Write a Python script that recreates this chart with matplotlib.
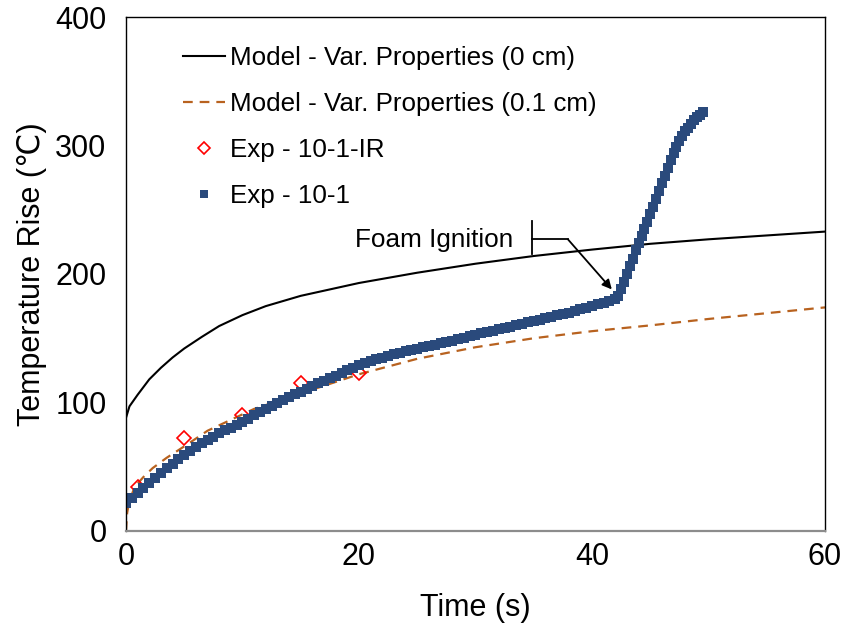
import matplotlib
matplotlib.use("Agg")
import matplotlib.pyplot as plt

plt.rcParams['font.family'] = ['Liberation Sans', 'DejaVu Sans']
plt.rcParams['lines.scale_dashes'] = False

# Model - variable properties, surface (0 cm)
model_0_t = [0, 0, 0.3, 1, 2, 3, 4, 5, 6.5, 8, 10, 12, 15, 20, 25, 30, 35, 40, 45, 50, 55, 60]
model_0_T = [0, 88, 97, 106, 118, 127, 135, 142, 151, 159.5, 168, 175, 183, 193, 201, 208, 214,
             219, 223.5, 227, 230, 233]

# Model - variable properties, 0.1 cm depth
model_01_t = [0, 0.1, 0.3, 0.77, 1.5, 2.3, 3.5, 5.2, 7, 9, 11, 13, 15, 18, 20, 25, 30, 35, 40,
              45, 50, 55, 60]
model_01_T = [0, 14, 24, 34.5, 42, 49, 57, 67, 78, 86.5, 95, 101, 107, 116, 122, 134, 143, 150,
              155.5, 160, 165, 169.5, 174]

# Experiment 10-1, IR readings
ir_t = [1, 5, 10, 15, 20]
ir_T = [34, 72, 90, 115, 123]

# Experiment 10-1, thermocouple record
exp_t = [0, 0.5, 1, 1.5, 2, 2.5, 3, 3.5, 4, 4.5, 5, 5.5, 6, 6.5, 7, 7.5, 8, 8.5, 9, 9.5,
         10, 10.5, 11, 11.5, 12, 12.5, 13, 13.5, 14, 14.5, 15, 15.5, 16, 16.5, 17, 17.5,
         18, 18.5, 19, 19.5, 20, 20.5, 21, 21.5, 22, 22.5, 23, 23.5, 24, 24.5, 25, 25.5,
         26, 26.5, 27, 27.5, 28, 28.5, 29, 29.5, 30, 30.5, 31, 31.5, 32, 32.5, 33, 33.5,
         34, 34.5, 35, 35.5, 36, 36.5, 37, 37.5, 38, 38.5, 39, 39.5, 40, 40.5, 41, 41.5,
         42, 42.25, 42.5, 42.75, 43, 43.25, 43.5, 43.75, 44, 44.25, 44.5, 44.75, 45,
         45.25, 45.5, 45.75, 46, 46.25, 46.5, 46.75, 47, 47.25, 47.5, 47.75, 48, 48.25,
         48.5, 48.75, 49, 49.25, 49.5]
exp_T = [22, 26, 29.8, 33.5, 37.5, 41.2, 45, 48.8, 52.5, 56, 59.5, 62.5, 65.5, 68.3, 71,
         73.5, 76, 78.3, 80.5, 82.8, 85, 87.5, 90, 92.5, 95, 97.3, 99.5, 101.8, 104, 106.3,
         108.5, 110.8, 113, 115, 117, 119, 121, 123, 125, 127, 129, 130.5, 132, 133.5, 135,
         136.3, 137.5, 138.8, 140, 141, 142, 143, 144, 145, 146, 147, 148, 149.3, 150.5,
         151.5, 152.5, 153.8, 155, 156, 157, 158, 159, 160, 161, 162.3, 163.5, 164.5,
         165.5, 166.8, 168, 169, 170, 171.3, 172.5, 173.8, 175, 176.3, 177.5, 178.8,
         180.5, 183, 188, 194, 200, 206, 212, 218.5, 224, 229.5, 235, 240.5, 246.5,
         252.5, 258.5, 264.5, 270.5, 276.5, 282.5, 288.5, 294, 299, 303.5, 307.5, 311, 314,
         317, 319.5, 322, 324, 326]

x_ticks = [0, 20, 40, 60]
y_ticks = [0, 100, 200, 300, 400]

fig = plt.figure(figsize=(8.46, 6.28), dpi=100)
ax = fig.add_axes([0.1489, 0.1545, 0.8263, 0.8184])

ax.plot(model_0_t, model_0_T, color='black', lw=1.5, label='Model - Var. Properties (0 cm)')
ax.plot(model_01_t, model_01_T, color='#b8621f', lw=1.6, dashes=(7, 5),
        label='Model - Var. Properties (0.1 cm)')
ax.plot(ir_t, ir_T, ls='none', marker='D', markersize=7, markerfacecolor='none',
        markeredgecolor='#ff0000', markeredgewidth=1.2, label='Exp - 10-1-IR')
ax.plot(exp_t, exp_T, ls='none', marker='s', markersize=7.2, color='#2a4a7c',
        markeredgewidth=0, label='Exp - 10-1')

ax.set_xlim(0, 60)
ax.set_ylim(0, 400)
ax.set_xticks(x_ticks)
ax.set_yticks(y_ticks)
ax.tick_params(length=0, labelsize=22)
ax.tick_params(axis='x', pad=8)
ax.tick_params(axis='y', pad=14)
ax.set_xlabel('Time (s)', fontsize=22, labelpad=15)
ax.set_ylabel('Temperature Rise (℃)', fontsize=22, labelpad=6)

for side in ('top', 'right', 'left'):
    ax.spines[side].set_color('black')
    ax.spines[side].set_linewidth(1.0)
ax.spines['bottom'].set_color('#8c8c8c')
ax.spines['bottom'].set_linewidth(1.6)

# callout for the ignition point
ax.plot([34.83, 34.83], [215.2, 241.2], color='black', lw=1.3)
ax.plot([34.83, 37.94], [226.9, 226.9], color='black', lw=1.3)
ax.annotate('', xy=(41.7, 188), xytext=(37.94, 226.9),
            arrowprops=dict(arrowstyle='-|>', color='black', lw=1.3,
                            mutation_scale=14, shrinkA=0, shrinkB=0))
ax.text(33.2, 226.1, 'Foam Ignition', ha='right', va='center', fontsize=18.8)

leg = ax.legend(loc='upper left', bbox_to_anchor=(0.082, 0.943), frameon=False,
                fontsize=18.7, handlelength=1.6, handletextpad=0.2, labelspacing=0.84,
                borderpad=0.0, borderaxespad=0.0, markerscale=0.85)

fig.savefig('out.png', dpi=100)
